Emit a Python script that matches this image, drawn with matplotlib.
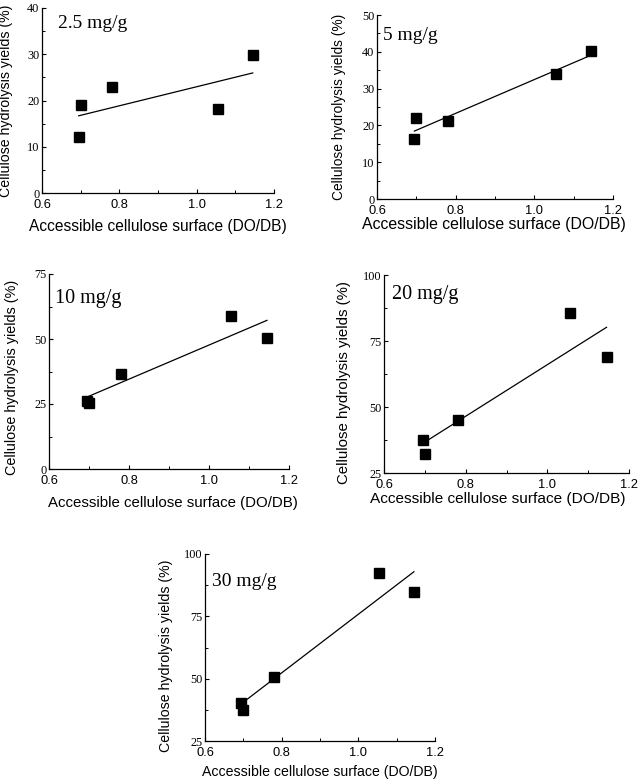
import numpy as np
import matplotlib.pyplot as plt
from matplotlib.ticker import MultipleLocator

# Accessible cellulose surface (DO/DB) for the five substrates
surface = [0.695, 0.700, 0.780, 1.055, 1.145]

# Hydrolysis yields (%) at each enzyme loading
yield_2_5 = [12.1, 19.0, 22.9, 18.1, 29.9]
yield_5 = [16.4, 22.0, 21.1, 34.0, 40.1]
yield_10 = [26.0, 25.5, 36.5, 58.9, 50.5]
yield_20 = [37.5, 32.3, 44.9, 85.5, 68.9]
yield_30 = [40.3, 37.6, 50.7, 92.4, 84.7]

loadings = ['2.5 mg/g', '5 mg/g', '10 mg/g', '20 mg/g', '30 mg/g']
series = [yield_2_5, yield_5, yield_10, yield_20, yield_30]
y_limits = [(0, 40), (0, 50), (0, 75), (25, 100), (25, 100)]
y_major = [10, 10, 25, 25, 25]
x_ticks = [0.6, 0.8, 1.0, 1.2]

W, H = 638, 782
# pixel layout per panel:
# axes box (left, right, top, bottom), xlabel (x, y, size), ylabel (x, y, size), tag (x, y, size)
layout = [
    ((42, 274, 8, 193), (158, 227, 11.2), (6, 101, 10.2), (58, 24, 14)),
    ((377, 613, 15, 199), (494, 224, 11.4), (339, 107, 9.95), (383, 35, 14)),
    ((49, 289, 274, 469), (173, 503, 10.85), (12, 377, 10.35), (55, 298, 14.5)),
    ((384, 629, 275, 473), (498, 499, 11.1), (344, 383, 10.8), (392, 295, 14.5)),
    ((205, 435, 554, 741), (320, 772, 10.2), (166, 656, 10.2), (212, 582, 14)),
]

serif = 'Liberation Serif'
sans = 'Liberation Sans'

fig = plt.figure(figsize=(W / 100, H / 100), dpi=100)

for i in range(5):
    (l, r, t, b), xlab, ylab, tag = layout[i]
    ax = fig.add_axes([l / W, 1 - b / H, (r - l) / W, (b - t) / H])

    def frac(px, py):
        return (px - l) / (r - l), (b - py) / (b - t)

    x = np.array(surface)
    y = np.array(series[i])

    ax.plot(x, y, 's', color='black', ms=6.5, zorder=3)
    # linear fit
    k, c = np.polyfit(x, y, 1)
    xf = np.array([x.min(), x.max()])
    ax.plot(xf, k * xf + c, color='black', lw=0.9)

    ax.set_xlim(0.6, 1.2)
    ax.set_ylim(*y_limits[i])
    ax.xaxis.set_minor_locator(MultipleLocator(0.1))
    ax.yaxis.set_major_locator(MultipleLocator(y_major[i]))
    ax.yaxis.set_minor_locator(MultipleLocator(y_major[i] / 2))
    ax.set_xticks(x_ticks)
    ax.set_xticklabels(['%.1f' % v for v in x_ticks], fontfamily=sans, fontsize=9.3)
    for lab in ax.get_yticklabels():
        lab.set_fontfamily(serif)
        lab.set_fontsize(8.8)

    ax.spines['top'].set_visible(False)
    ax.spines['right'].set_visible(False)
    ax.spines['left'].set_linewidth(0.9)
    ax.spines['bottom'].set_linewidth(0.9)
    ax.tick_params(which='major', direction='in', length=3, width=0.8)
    ax.tick_params(which='minor', direction='in', length=2, width=0.7)
    ax.tick_params(axis='x', pad=4)
    ax.tick_params(axis='y', pad=2)

    ax.set_xlabel('Accessible cellulose surface (DO/DB)', fontfamily=sans, fontsize=xlab[2])
    ax.xaxis.set_label_coords(*frac(xlab[0], xlab[1]))
    ax.xaxis.label.set_va('center')
    ax.set_ylabel('Cellulose hydrolysis yields (%)', fontfamily=sans, fontsize=ylab[2])
    ax.yaxis.set_label_coords(*frac(ylab[0], ylab[1]))
    ax.yaxis.label.set_va('center')

    tx, ty = frac(tag[0], tag[1])
    ax.text(tx, ty, loadings[i], transform=ax.transAxes, fontfamily=serif,
            fontsize=tag[2], va='center', ha='left')

fig.savefig('out.png', dpi=100)
